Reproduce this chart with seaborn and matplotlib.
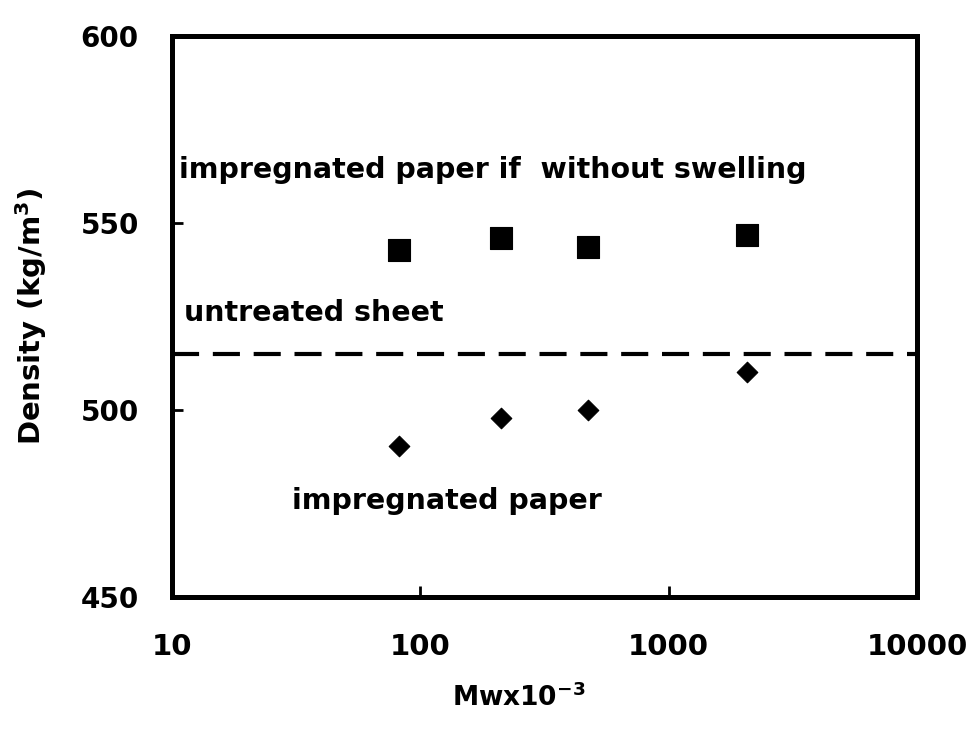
import matplotlib
matplotlib.use("Agg")
import matplotlib.pyplot as plt
import pandas as pd
import seaborn as sns

# Molecular weight (Mw x 10^-3) of the impregnating polymer
mw = [82, 211, 473, 2070]
# Density of impregnated paper computed as if there were no swelling
density_no_swelling = [542.8, 546.0, 543.7, 546.9]
# Measured density of impregnated paper
density_impregnated = [490.4, 497.8, 499.9, 510.2]
# Density of the untreated sheet (reference level)
untreated_density = 515.0

x_ticks = [10, 100, 1000, 10000]
y_ticks = [450, 500, 550, 600]

sns.set_theme(style="white")
plt.rcParams["font.family"] = ["DejaVu Sans"]
plt.rcParams["font.weight"] = "bold"
plt.rcParams["mathtext.default"] = "bf"
plt.rcParams["text.color"] = "black"
plt.rcParams["axes.labelcolor"] = "black"
plt.rcParams["xtick.color"] = "black"
plt.rcParams["ytick.color"] = "black"

fig = plt.figure(figsize=(9.73, 7.42), dpi=100)
ax = fig.add_axes([0.1768, 0.1954, 0.7657, 0.7561])

df_sq = pd.DataFrame({"mw": mw, "density": density_no_swelling})
df_di = pd.DataFrame({"mw": mw, "density": density_impregnated})

sns.scatterplot(data=df_sq, x="mw", y="density", marker="s", s=250,
                color="black", edgecolor="black", linewidth=0.8, ax=ax, zorder=3)
sns.scatterplot(data=df_di, x="mw", y="density", marker="D", s=110,
                color="black", edgecolor="black", linewidth=0.8, ax=ax, zorder=3)

ax.axhline(untreated_density, color="black", lw=3.0,
           linestyle=(0, (6.5, 3.3)), zorder=2)

ax.set_xscale("log")
ax.set_xlim(10, 10000)
ax.set_ylim(450, 600)
ax.set_xticks(x_ticks)
ax.set_xticklabels([str(t) for t in x_ticks])
ax.set_yticks(y_ticks)
ax.set_yticklabels([str(t) for t in y_ticks])
ax.minorticks_off()

ax.tick_params(axis="x", direction="in", length=8, width=2, color="black",
               labelsize=21, pad=26, bottom=True, top=False, labelcolor="black")
ax.tick_params(axis="y", direction="in", length=8, width=2, color="black",
               labelsize=20, pad=24, left=True, right=False, labelcolor="black")
for lab in ax.get_xticklabels() + ax.get_yticklabels():
    lab.set_fontweight("bold")

for sp in ax.spines.values():
    sp.set_visible(True)
    sp.set_linewidth(3.6)
    sp.set_color("black")

ax.set_xlabel(r"Mwx10$^{-3}$", fontsize=19, fontweight="bold", color="black")
ax.xaxis.set_label_coords(0.466, -0.155)
ax.set_ylabel(r"Density (kg/m$^{3}$)", fontsize=21, fontweight="bold", color="black")
ax.yaxis.set_label_coords(-0.165, 0.5)

ax.text(10.67, 562.1, "impregnated paper if  without swelling", color="black",
        fontsize=20.5, fontweight="bold", va="baseline", ha="left")
ax.text(11.2, 523.7, "untreated sheet", color="black",
        fontsize=20.5, fontweight="bold", va="baseline", ha="left")
ax.text(30.4, 473.5, "impregnated paper", color="black",
        fontsize=20.5, fontweight="bold", va="baseline", ha="left")

fig.savefig("out.png", dpi=100, facecolor="white")
